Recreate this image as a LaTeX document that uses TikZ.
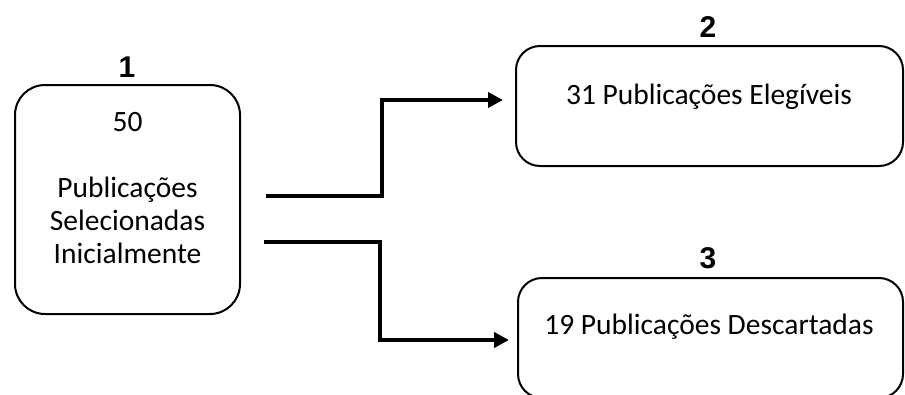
\documentclass[tikz,border=0pt]{standalone}
\usepackage{fontspec}
\setmainfont{Carlito}
\newfontfamily\numfont{Liberation Sans}
\usetikzlibrary{arrows.meta}

\begin{document}
\begin{tikzpicture}[x=1pt, y=-1pt,
        etapa/.style={draw, line width=2pt, inner sep=0pt},
        texto/.style={font=\fontsize{29.5}{33}\selectfont, align=center},
        numero/.style={font=\numfont\bfseries\fontsize{30}{34}\selectfont},
        seta/.style={line width=4pt, -{Triangle[length=15pt,width=15pt]}}]
    \clip (0,0) rectangle (905,394);

    \node[etapa, rounded corners=30pt, minimum width=225pt, minimum height=229pt] (sel) at (127.5,199.5) {};
    \node[etapa, rounded corners=24pt, minimum width=387pt, minimum height=120pt] (eleg) at (709.5,106) {};
    \node[etapa, rounded corners=24pt, minimum width=385pt, minimum height=120pt] (desc) at (710.5,338) {};

    \node[texto] (selt) at (127.5,188) {50\\[33pt]Publicações\\Selecionadas\\Inicialmente};
    \node[texto] (elegt) at (709,97) {31 Publicações Elegíveis};
    \node[texto] (desct) at (709,327) {19 Publicações Descartadas};

    \node[numero] (n1) at (127,67) {1};
    \node[numero] (n2) at (708,27) {2};
    \node[numero] (n3) at (708,258) {3};

    \coordinate (s1) at (266,196);
    \coordinate (k1) at (382,100);
    \coordinate (s2) at (264,242);
    \coordinate (k2) at (380,340);

    \draw[seta, shorten >=12pt] (s1) -| (k1) -- (k1 -| eleg.west);
    \draw[seta, shorten >=8pt] (s2) -| (k2) -- (k2 -| desc.west);
\end{tikzpicture}
\end{document}
